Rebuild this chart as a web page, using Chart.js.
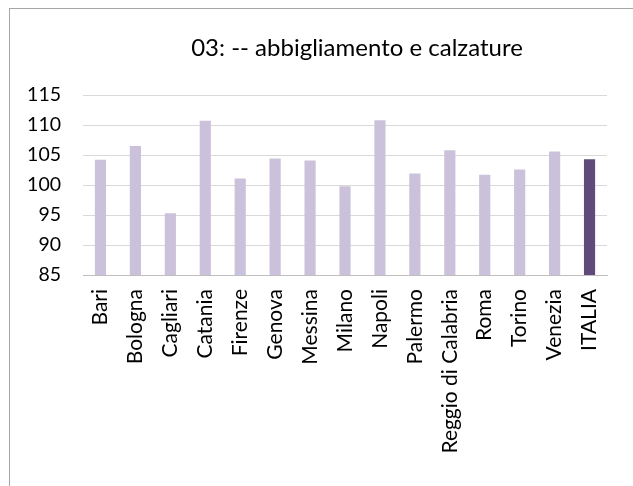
<!DOCTYPE html>
<html><head><meta charset="utf-8">
<script src="https://cdn.jsdelivr.net/npm/chart.js@4"></script>
<style>
html,body{margin:0;padding:0;background:#fff;}
#wrap{position:relative;width:633px;height:486px;overflow:hidden;}
#frame{position:absolute;left:9px;top:8px;width:700px;height:600px;border:1px solid #a6a6a6;box-sizing:border-box;pointer-events:none;}
canvas{position:absolute;left:0;top:0;}
</style></head>
<body>
<div id="wrap"><canvas id="c" width="633" height="486"></canvas><div id="frame"></div></div>
<script>
const titleText = "03: -- abbigliamento e calzature";
const categories = ["Bari","Bologna","Cagliari","Catania","Firenze","Genova","Messina","Milano","Napoli","Palermo","Reggio di Calabria","Roma","Torino","Venezia","ITALIA"];
const values = [104.2,106.5,95.3,110.7,101.1,104.4,104.1,99.8,110.8,101.9,105.8,101.7,102.6,105.6,104.3];
const yTicks = [85,90,95,100,105,110,115];
const barColors = categories.map(c => c === "ITALIA" ? "#604a7b" : "#ccc1da");
const FONT = "Lato, 'Open Sans', sans-serif";

const titlePlugin = {
  id: 'customTitle',
  afterDraw(chart) {
    const ctx = chart.ctx, a = chart.chartArea;
    ctx.save();
    ctx.font = "24px " + FONT;
    ctx.fillStyle = "#000";
    ctx.textAlign = "center";
    ctx.textBaseline = "middle";
    ctx.fillText(titleText, (a.left + a.right) / 2 + 12, 48);
    ctx.restore();
  }
};

new Chart(document.getElementById('c'), {
  type: 'bar',
  data: { labels: categories, datasets: [{ data: values, backgroundColor: barColors, barPercentage: 0.32, categoryPercentage: 1 }] },
  options: {
    responsive: false, animation: false,
    layout: { padding: { top: 95, right: 26, left: 0, bottom: 0 } },
    plugins: { legend: { display: false }, tooltip: { enabled: false }, title: { display: false } },
    scales: {
      y: {
        min: 85, max: 115,
        afterFit(s) { s.width = 83; },
        afterBuildTicks(s) { s.ticks = yTicks.map(v => ({ value: v })); },
        grid: { color: "#d9d9d9", lineWidth: 1, drawTicks: false },
        border: { display: false },
        ticks: { padding: 22, color: "#000", font: { size: 19.5, family: FONT } }
      },
      x: {
        afterFit(s) { s.height = 211; },
        grid: { display: false, drawTicks: false },
        border: { display: true, color: "#bfbfbf", width: 1 },
        ticks: { padding: 14, color: "#000", maxRotation: 90, minRotation: 90, autoSkip: false, font: { size: 21, family: FONT } }
      }
    }
  },
  plugins: [titlePlugin]
});
</script>
</body></html>
